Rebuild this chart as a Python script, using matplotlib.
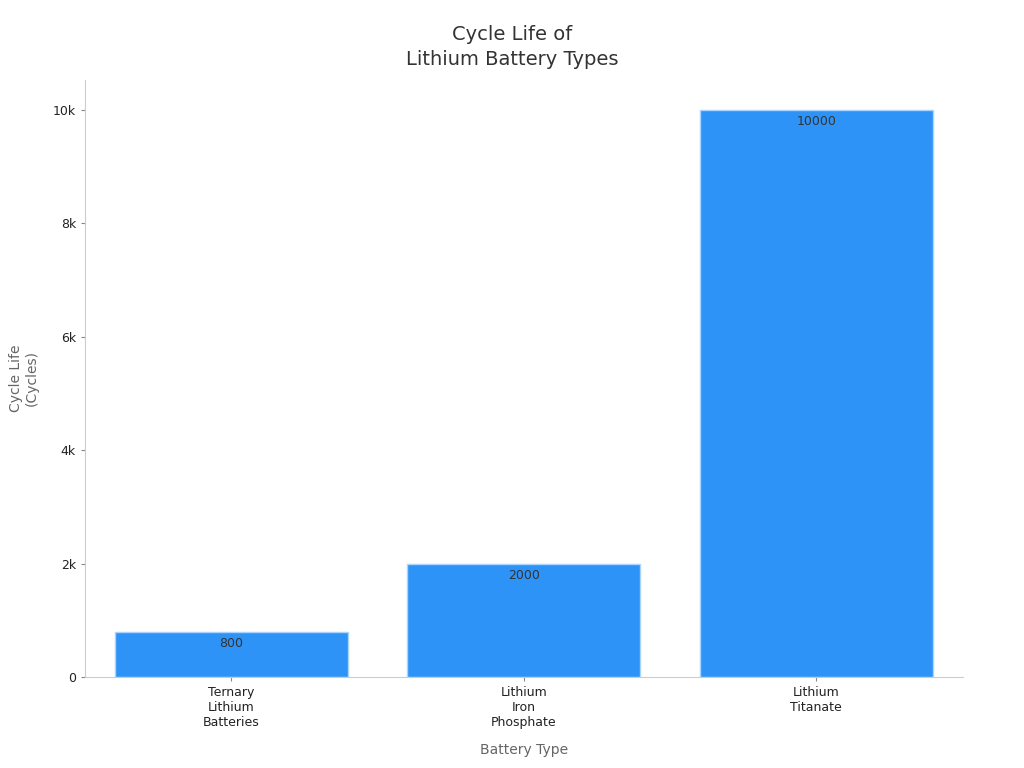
import matplotlib.pyplot as plt
from matplotlib.ticker import FuncFormatter

categories = ['Ternary\nLithium\nBatteries', 'Lithium\nIron\nPhosphate', 'Lithium\nTitanate']
cycle_life = [800, 2000, 10000]
y_ticks = [0, 2000, 4000, 6000, 8000, 10000]


def k_format(v, pos):
    return '0' if v == 0 else f'{v / 1000:g}k'


fig = plt.figure(figsize=(10.24, 7.68), dpi=100)
ax = fig.add_axes([0.083, 0.1185, 0.857, 0.7775])

x = range(len(categories))
bars = ax.bar(x, cycle_life, width=0.795, color='#2e93f7', edgecolor='#a8d4ff', linewidth=1)

# value labels just inside the top of each bar
for b, v in zip(bars, cycle_life):
    ax.annotate(str(v), (b.get_x() + b.get_width() / 2, v), xytext=(0, -4),
                textcoords='offset points', ha='center', va='top',
                fontsize=9, color='#333333')

ax.set_xlim(-0.5, 2.5)
ax.set_ylim(0, 10530)
ax.set_xticks(list(x))
ax.set_xticklabels(categories, fontsize=9, color='#222222')
ax.set_yticks(y_ticks)
ax.yaxis.set_major_formatter(FuncFormatter(k_format))
ax.tick_params(axis='y', labelsize=9, labelcolor='#222222', color='#888888', length=3)
ax.tick_params(axis='x', color='#888888', length=3)

for side in ['top', 'right']:
    ax.spines[side].set_visible(False)
for side in ['left', 'bottom']:
    ax.spines[side].set_color('#cccccc')

ax.set_xlabel('Battery Type', fontsize=10, color='#666666', labelpad=10)
ax.set_ylabel('Cycle Life\n(Cycles)', fontsize=10, color='#666666', labelpad=10)
fig.suptitle('Cycle Life of\nLithium Battery Types', x=0.5, y=0.968, fontsize=14,
             color='#333333', linespacing=1.45, va='top')

fig.savefig('out.png', dpi=100)
